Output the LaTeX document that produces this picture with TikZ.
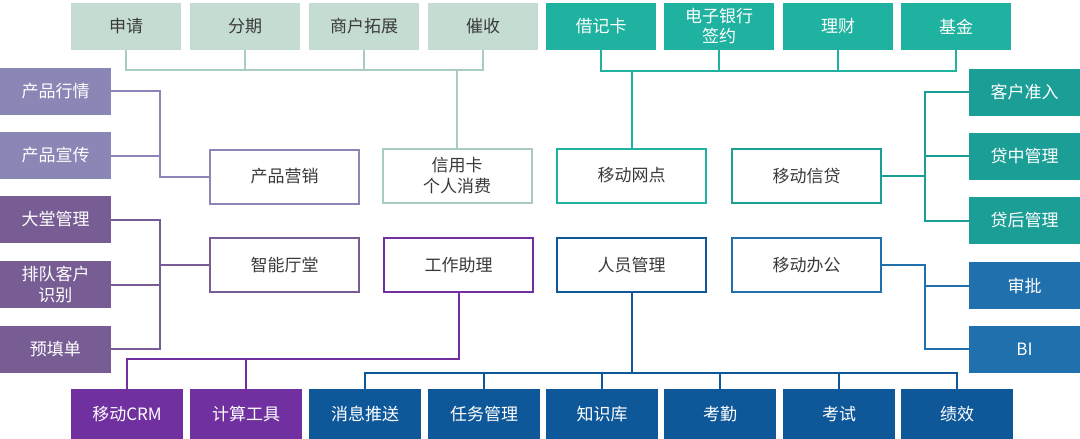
\documentclass[tikz,border=0pt]{standalone}
\usepackage{fontspec}
\setmainfont{Noto Sans CJK SC}
\definecolor{sage}{HTML}{C5DCD2}
\definecolor{sageline}{HTML}{A9CCC2}
\definecolor{tealA}{HTML}{1FB2A0}
\definecolor{tealB}{HTML}{1B9E95}
\definecolor{lav}{HTML}{8A86B6}
\definecolor{purA}{HTML}{775D94}
\definecolor{purB}{HTML}{7030A0}
\definecolor{bluA}{HTML}{2070AD}
\definecolor{bluB}{HTML}{0E589A}
\definecolor{txt}{HTML}{3A3A3A}
\begin{document}
\begin{tikzpicture}[x=1pt,y=-1pt,
  lbl/.style={font=\fontsize{17}{21}\selectfont, align=center, inner sep=0pt},
  tbox/.style={lbl, minimum width=110pt, minimum height=47pt},
  sidebox/.style={lbl, minimum width=111pt, minimum height=47pt, text=white},
  botbox/.style={lbl, minimum width=112pt, minimum height=50pt, text=white},
  cbox/.style={lbl, draw=#1, line width=2pt, fill=white, text=txt, minimum width=149pt, minimum height=54pt},
  conn/.style={draw=#1, line width=2pt}
]
\useasboundingbox (0,0) rectangle (1080,439);
% top row
\node[tbox, fill=sage, text=txt] (shenqing) at (126,26.5) {申请};
\node[tbox, fill=sage, text=txt] (fenqi) at (245,26.5) {分期};
\node[tbox, fill=sage, text=txt] (shanghu) at (364,26.5) {商户拓展};
\node[tbox, fill=sage, text=txt] (cuishou) at (483,26.5) {催收};
\node[tbox, fill=tealA, text=white] (jieji) at (601,26.5) {借记卡};
\node[tbox, fill=tealA, text=white, font=\fontsize{17}{20}\selectfont] (dianzi) at (719,26.5) {电子银行\\签约};
\node[tbox, fill=tealA, text=white] (licai) at (838,26.5) {理财};
\node[tbox, fill=tealA, text=white] (jijin) at (956,26.5) {基金};
% left column
\node[sidebox, fill=lav] (hangqing) at (55.5,91) {产品行情};
\node[sidebox, fill=lav] (xuanchuan) at (55.5,155.5) {产品宣传};
\node[sidebox, fill=purA] (datang) at (55.5,219.5) {大堂管理};
\node[sidebox, fill=purA, font=\fontsize{17}{21}\selectfont] (paidui) at (55.5,284.5) {排队客户\\识别};
\node[sidebox, fill=purA] (yutian) at (55.5,349) {预填单};
% right column
\node[sidebox, fill=tealB] (zhunru) at (1024.5,92) {客户准入};
\node[sidebox, fill=tealB] (daizhong) at (1024.5,156) {贷中管理};
\node[sidebox, fill=tealB] (daihou) at (1024.5,220.5) {贷后管理};
\node[sidebox, fill=bluA] (shenpi) at (1024.5,285.5) {审批};
\node[sidebox, fill=bluA] (bi) at (1024.5,349) {BI};
% bottom row
\node[botbox, fill=purB] (crm) at (127,414) {移动CRM};
\node[botbox, fill=purB] (jisuan) at (246,414) {计算工具};
\node[botbox, fill=bluB] (xiaoxi) at (365,414) {消息推送};
\node[botbox, fill=bluB] (renwu) at (484,414) {任务管理};
\node[botbox, fill=bluB] (zhishi) at (602,414) {知识库};
\node[botbox, fill=bluB] (kaoqin) at (720,414) {考勤};
\node[botbox, fill=bluB] (kaoshi) at (839,414) {考试};
\node[botbox, fill=bluB] (jixiao) at (957,414) {绩效};
% center boxes
\node[cbox=lav] (yingxiao) at (284.5,176.5) {产品营销};
\node[cbox=sageline] (xinyong) at (457,175.5) {信用卡\\个人消费};
\node[cbox=tealA] (wangdian) at (631.5,175.5) {移动网点};
\node[cbox=tealB] (xindai) at (806.5,176) {移动信贷};
\node[cbox=purA] (zhineng) at (284.5,265) {智能厅堂};
\node[cbox=purB] (zhuli) at (458.5,265) {工作助理};
\node[cbox=bluB] (renyuan) at (631.5,265) {人员管理};
\node[cbox=bluA] (bangong) at (806.5,265) {移动办公};
% connector helper coordinates
\coordinate (tl) at (0,70);
\coordinate (tr) at (0,71);
\coordinate (lx) at (160,0);
\coordinate (rx) at (925,0);
\coordinate (pb) at (0,359);
\coordinate (bb) at (0,373);
% top-left bracket
\draw[conn=sageline] (shenqing.south) -- (shenqing.south |- tl) -- (cuishou.south |- tl) -- (cuishou.south);
\draw[conn=sageline] (fenqi.south) -- (fenqi.south |- tl);
\draw[conn=sageline] (shanghu.south) -- (shanghu.south |- tl);
\draw[conn=sageline] (xinyong.north) -- (xinyong.north |- tl);
% top-right bracket
\draw[conn=tealA] (jieji.south) -- (jieji.south |- tr) -- (jijin.south |- tr) -- (jijin.south);
\draw[conn=tealA] (dianzi.south) -- (dianzi.south |- tr);
\draw[conn=tealA] (licai.south) -- (licai.south |- tr);
\draw[conn=tealA] (wangdian.north) -- (wangdian.north |- tr);
% left
\draw[conn=lav] (hangqing.east) -- (hangqing.east -| lx) |- (yingxiao.west);
\draw[conn=lav] (xuanchuan.east) -- (xuanchuan.east -| lx);
\draw[conn=purA] (datang.east) -- (datang.east -| lx) -- (yutian.east -| lx) -- (yutian.east);
\draw[conn=purA] (paidui.east) -- (paidui.east -| lx);
\draw[conn=purA] (zhineng.west) -- (zhineng.west -| lx);
% right
\draw[conn=tealB] (zhunru.west) -- (zhunru.west -| rx) -- (daihou.west -| rx) -- (daihou.west);
\draw[conn=tealB] (daizhong.west) -- (daizhong.west -| rx);
\draw[conn=tealB] (xindai.east) -- (xindai.east -| rx);
\draw[conn=bluA] (bangong.east) -- (bangong.east -| rx) |- (bi.west);
\draw[conn=bluA] (shenpi.west) -- (shenpi.west -| rx);
% bottom purple
\draw[conn=purB] (zhuli.south) -- (zhuli.south |- pb) -| (crm.north);
\draw[conn=purB] (jisuan.north) -- (jisuan.north |- pb);
% bottom blue
\draw[conn=bluB] (renyuan.south) -- (renyuan.south |- bb);
\draw[conn=bluB] (xiaoxi.north) -- (xiaoxi.north |- bb) -- (jixiao.north |- bb) -- (jixiao.north);
\draw[conn=bluB] (renwu.north) -- (renwu.north |- bb);
\draw[conn=bluB] (zhishi.north) -- (zhishi.north |- bb);
\draw[conn=bluB] (kaoqin.north) -- (kaoqin.north |- bb);
\draw[conn=bluB] (kaoshi.north) -- (kaoshi.north |- bb);
\end{tikzpicture}
\end{document}
